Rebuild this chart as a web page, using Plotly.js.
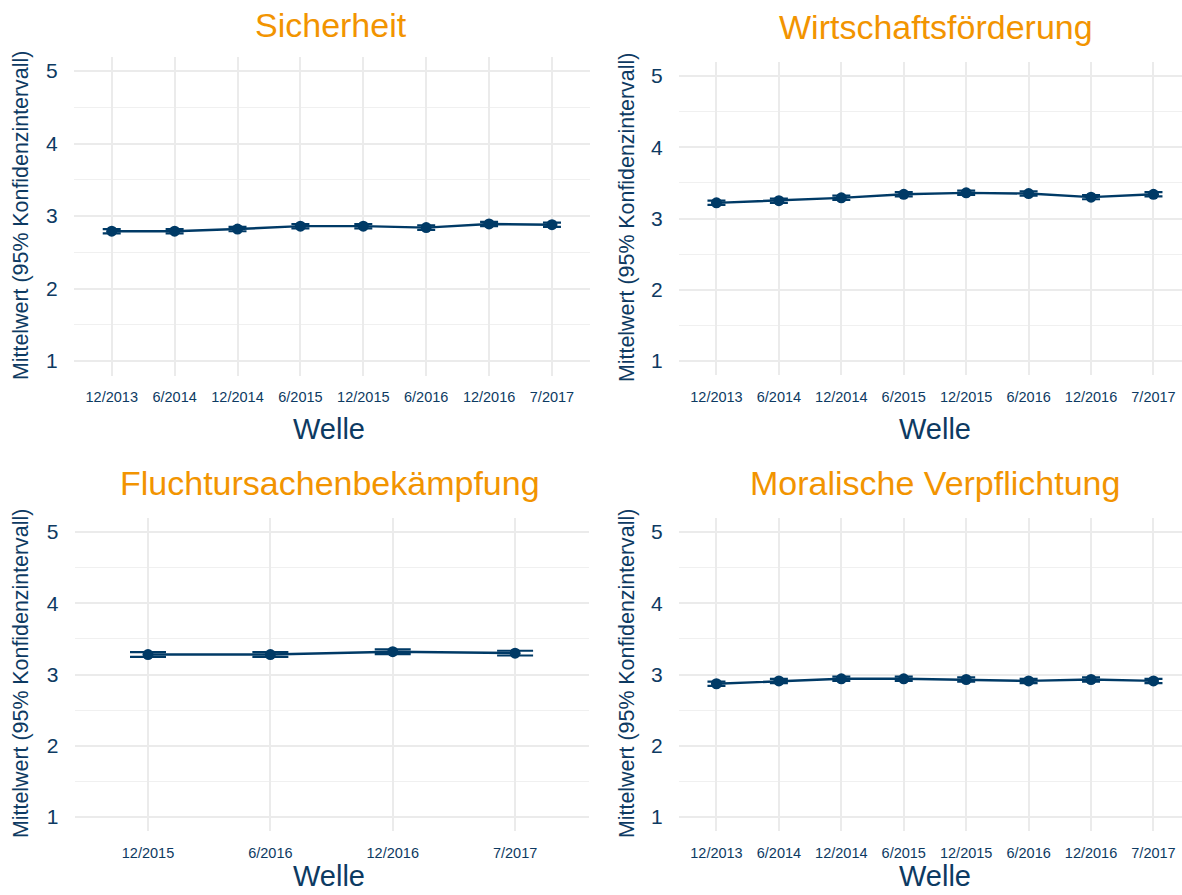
<!DOCTYPE html>
<html>
<head>
<meta charset="utf-8">
<script src="https://cdn.plot.ly/plotly-3.0.1.min.js"></script>
<style>html,body{margin:0;padding:0;background:#fff;}#chart{width:1182px;height:895px;}</style>
</head>
<body>
<div id="chart"></div>
<script>
// ---- data ----
const wellen8 = ['12/2013','6/2014','12/2014','6/2015','12/2015','6/2016','12/2016','7/2017'];
const wellen4 = ['12/2015','6/2016','12/2016','7/2017'];

const sicherheit   = [2.79, 2.79, 2.82, 2.86, 2.86, 2.84, 2.89, 2.88];
const sicherheitCI = [0.03, 0.03, 0.03, 0.03, 0.03, 0.03, 0.03, 0.03];

const wirtschaft   = [3.22, 3.25, 3.29, 3.34, 3.36, 3.35, 3.30, 3.34];
const wirtschaftCI = [0.03, 0.03, 0.03, 0.03, 0.03, 0.03, 0.03, 0.03];

const flucht   = [3.28, 3.28, 3.32, 3.30];
const fluchtCI = [0.033, 0.033, 0.033, 0.033];

const moral   = [2.87, 2.91, 2.94, 2.94, 2.93, 2.91, 2.93, 2.91];
const moralCI = [0.03, 0.03, 0.03, 0.03, 0.03, 0.03, 0.03, 0.03];

const panelTitles = ['Sicherheit','Wirtschaftsförderung','Fluchtursachenbekämpfung','Moralische Verpflichtung'];
const xTitle = 'Welle';
const yTitle = 'Mittelwert (95% Konfidenzintervall)';
const yTicks = [1, 2, 3, 4, 5];

// ---- styling ----
const W = 1182, H = 895;
const NAVY = '#003a66';
const TEXT = '#0d3a62';
const ORANGE = '#f29400';
const GRID = '#ebebeb';
const FONT = 'Liberation Sans, Arial, sans-serif';

const px = v => v / W;
const py = v => 1 - v / H;

function trace(x, y, ci, xa, ya, capHalf) {
  return {
    type: 'scatter', mode: 'lines+markers',
    x: x, y: y, xaxis: xa, yaxis: ya,
    line: {color: NAVY, width: 2.4},
    marker: {color: NAVY, size: 11},
    error_y: {type: 'data', symmetric: true, array: ci, color: NAVY, thickness: 2.2, width: capHalf},
    hoverinfo: 'x+y', showlegend: false
  };
}

const data = [
  trace(wellen8, sicherheit, sicherheitCI, 'x', 'y', 9),
  trace(wellen8, wirtschaft, wirtschaftCI, 'x2', 'y2', 9),
  trace(wellen4, flucht, fluchtCI, 'x3', 'y3', 18),
  trace(wellen8, moral, moralCI, 'x4', 'y4', 9)
];

function xaxis(domPx, range, anchor) {
  return {
    type: 'category', domain: [px(domPx[0]), px(domPx[1])], range: range, anchor: anchor,
    showgrid: true, gridcolor: GRID, gridwidth: 2, zeroline: false, showline: false,
    ticks: 'outside', ticklen: 8, tickcolor: 'rgba(0,0,0,0)',
    tickfont: {family: FONT, size: 14.5, color: TEXT}, fixedrange: true
  };
}
function yaxis(domPx, anchor) {
  return {
    domain: [py(domPx[1]), py(domPx[0])], range: [0.8, 5.2], anchor: anchor,
    tickvals: yTicks, showgrid: true, gridcolor: GRID, gridwidth: 2, zeroline: false, showline: false,
    minor: {tick0: 0.5, dtick: 1, showgrid: true, gridcolor: '#f0f0f0', gridwidth: 1, ticks: ''},
    ticks: 'outside', ticklen: 11, tickcolor: 'rgba(0,0,0,0)',
    tickfont: {family: FONT, size: 21, color: TEXT}, fixedrange: true
  };
}

const rightRange = [-0.6, -0.6 + (1182 - 679) / 62.43];

const layout = {
  width: W, height: H,
  margin: {l: 0, r: 0, t: 0, b: 0},
  paper_bgcolor: '#fff', plot_bgcolor: '#fff',
  showlegend: false,
  xaxis:  xaxis([74, 589.7], [-0.6, 7.6], 'y'),
  yaxis:  yaxis([56.5, 375.5], 'x'),
  xaxis2: xaxis([679, 1182], rightRange, 'y2'),
  yaxis2: yaxis([61.75, 375.25], 'x2'),
  xaxis3: xaxis([74.6, 588.5], [-0.6, 3.6], 'y3'),
  yaxis3: yaxis([517.75, 831.25], 'x3'),
  xaxis4: xaxis([679, 1182], rightRange, 'y4'),
  yaxis4: yaxis([517.75, 831.25], 'x4'),
  annotations: []
};

const titlePos = [[331, 25], [936, 27], [330, 483], [935, 483]];
const xTitlePos = [[329, 429], [935, 429], [329, 876], [935, 876]];
const yTitlePos = [[21, 216], [627, 218], [21, 674], [627, 674]];

panelTitles.forEach((t, i) => {
  layout.annotations.push({
    text: t, xref: 'paper', yref: 'paper', x: px(titlePos[i][0]), y: py(titlePos[i][1]),
    xanchor: 'center', yanchor: 'middle', showarrow: false,
    font: {family: FONT, size: 34, color: ORANGE}
  });
  layout.annotations.push({
    text: xTitle, xref: 'paper', yref: 'paper', x: px(xTitlePos[i][0]), y: py(xTitlePos[i][1]),
    xanchor: 'center', yanchor: 'middle', showarrow: false,
    font: {family: FONT, size: 29, color: TEXT}
  });
  layout.annotations.push({
    text: yTitle, xref: 'paper', yref: 'paper', x: px(yTitlePos[i][0]), y: py(yTitlePos[i][1]),
    xanchor: 'center', yanchor: 'middle', textangle: -90, showarrow: false,
    font: {family: FONT, size: 21.4, color: TEXT}
  });
});

Plotly.newPlot('chart', data, layout, {displayModeBar: false, staticPlot: true});
</script>
</body>
</html>
